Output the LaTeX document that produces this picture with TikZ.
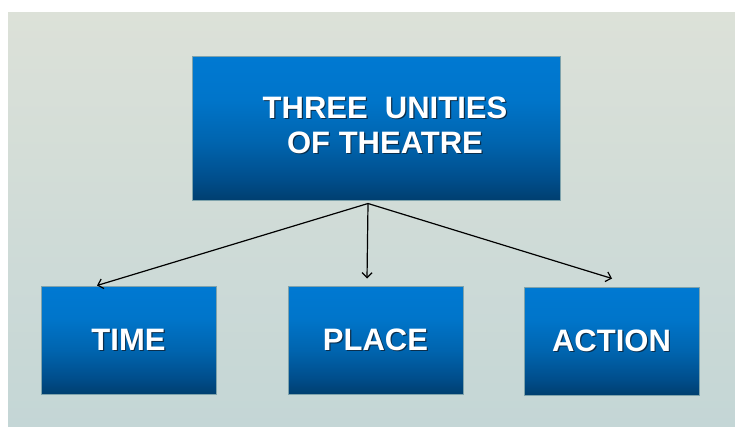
\documentclass[tikz,border=0pt]{standalone}
\usepackage{fontspec}
\setmainfont{Liberation Sans}
\usetikzlibrary{arrows.meta}

\definecolor{slidetop}{HTML}{DCE1D8}
\definecolor{slidebot}{HTML}{C4D6D6}
\definecolor{boxtop}{HTML}{0079D2}
\definecolor{boxhigh}{HTML}{0075CA}
\definecolor{boxmid}{HTML}{0064AE}
\definecolor{boxlow}{HTML}{004E8C}
\definecolor{boxbot}{HTML}{003F70}
\definecolor{boxrim}{HTML}{7FA3AC}
\definecolor{textglow}{HTML}{0B2E4C}

% blue fill: bright over the upper part, dark near the base
\pgfdeclareverticalshading{boxfill}{100bp}{color(0bp)=(boxbot); color(25bp)=(boxbot);
  color(32.5bp)=(boxlow); color(45bp)=(boxmid); color(60bp)=(boxhigh);
  color(75bp)=(boxtop); color(100bp)=(boxtop)}

% white caption with a dark halo under it
\newcommand\boxtext[1]{\makebox[0pt][l]{\hspace{1.2pt}\raisebox{-1.2pt}{\color{textglow}#1}}#1}

\tikzset{
  unitbox/.style={draw=boxrim, line width=1pt, shading=boxfill,
    minimum width=175pt, minimum height=108pt, inner sep=0pt},
  boxfont/.style={text=white, align=center, font=\fontsize{31}{35}\selectfont\bfseries},
  link/.style={draw, line width=1.2pt, -{Straight Barb[length=5pt,width=10pt]}}
}

\begin{document}
\begin{tikzpicture}[x=1pt, y=-1pt]
  \useasboundingbox (0,0) rectangle (735,426);
  \path[top color=slidetop, bottom color=slidebot] (8,12) rectangle (735,426);

  \node[unitbox, minimum width=368pt, minimum height=144pt,
    label={[boxfont, xshift=9pt, yshift=2pt]center:{\boxtext{THREE~~UNITIES}\\\boxtext{OF THEATRE}}}]
    (unities) at (376,128) {};
  \node[unitbox, boxfont] (time) at (128.5,340) {\boxtext{TIME}};
  \node[unitbox, boxfont] (place) at (375.5,340) {\boxtext{PLACE}};
  \node[unitbox, boxfont] (action) at (611.5,341) {\boxtext{ACTION}};

  \coordinate (fork) at ([xshift=-8pt, yshift=-3pt]unities.south);
  \path[link] (fork) -- ([xshift=-31.5pt]time.north);
  \path[link] (fork) -- ([xshift=-8.5pt, yshift=7pt]place.north);
  \path[link] (fork) -- ([xshift=0.5pt, yshift=8pt]action.north);
\end{tikzpicture}
\end{document}
